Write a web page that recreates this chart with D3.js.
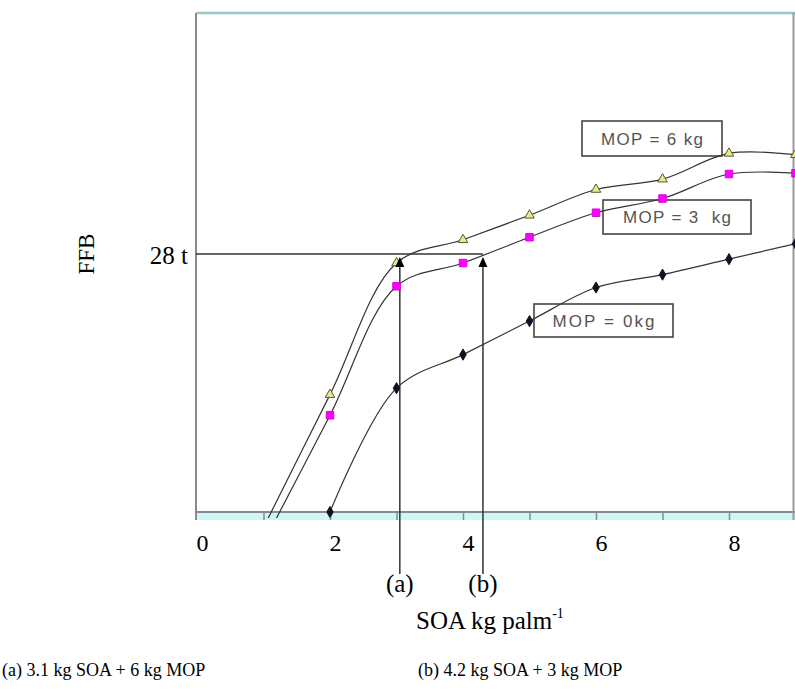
<!DOCTYPE html>
<html><head><meta charset="utf-8">
<script src="https://cdn.jsdelivr.net/npm/d3@7"></script>
<style>body{margin:0;background:#fff}svg{display:block}</style>
</head><body><svg id="c" width="795" height="689"></svg>
<script>
// ---- data ----
const soa  = [1, 2, 3, 4, 5, 6, 7, 8, 9];
const mop0 = [null, 18.0, 22.8, 24.1, 25.4, 26.7, 27.2, 27.8, 28.4];
const mop3 = [16.8, 21.75, 26.75, 27.65, 28.65, 29.6, 30.15, 31.1, 31.13];
const mop6 = [17.4, 22.55, 27.65, 28.55, 29.5, 30.5, 30.9, 31.9, 31.85];
const xTickValues = [0, 2, 4, 6, 8];
const xMinorTicks = [1, 2, 3, 4, 5, 6, 7, 8, 9];
const yTickValues = [28];
const yTickLabels = ["28 t"];
const seriesLabels = ["MOP = 6 kg", "MOP = 3  kg", "MOP = 0kg"];
const optimumX = [3.05, 4.3];
const optimumLabels = ["(a)", "(b)"];
const optimumY = 28;
const captions = ["(a) 3.1 kg SOA + 6 kg MOP", "(b) 4.2 kg SOA + 3 kg MOP"];
const xTitle = "SOA kg palm";
const yTitle = "FFB";

// ---- layout ----
const svg = d3.select("#c");
const L = 196, R = 795, T = 13, B = 512, BAND = 8;
const x = d3.scaleLinear().domain([0, 9]).range([197, 795.5]);
const y = d3.scaleLinear().domain([18, 28]).range([B, 254]);
const serif = "'Liberation Serif','Times New Roman',serif";
const sans = "'Liberation Sans',Arial,sans-serif";

svg.append("defs").append("clipPath").attr("id", "clip")
  .append("rect").attr("x", L).attr("y", T).attr("width", R - L).attr("height", B - T + 6);

// bottom band
svg.append("rect").attr("x", L).attr("y", B).attr("width", R - L).attr("height", BAND)
  .attr("fill", "#cdf6f6");
const xAxis = d3.axisBottom(x).tickValues(xMinorTicks).tickSize(BAND).tickFormat("");
const gx = svg.append("g").attr("transform", `translate(0,${B})`).call(xAxis);
gx.select(".domain").remove();
gx.selectAll(".tick line").attr("stroke", "#8a8a8a").attr("stroke-width", 1.5);

// frame
svg.append("line").attr("x1", L).attr("x2", R).attr("y1", T).attr("y2", T)
  .attr("stroke", "#9cc8c8").attr("stroke-width", 2.5);
svg.append("line").attr("x1", L).attr("x2", R).attr("y1", B).attr("y2", B)
  .attr("stroke", "#8a8a8a").attr("stroke-width", 2);
svg.append("line").attr("x1", L).attr("x2", L).attr("y1", T).attr("y2", B + BAND)
  .attr("stroke", "#8a8a8a").attr("stroke-width", 2);
svg.append("line").attr("x1", 793.5).attr("x2", 793.5).attr("y1", T).attr("y2", B + BAND)
  .attr("stroke", "#9a9a9a").attr("stroke-width", 2);

// x tick labels
const xLab = d3.axisBottom(x).tickValues(xTickValues).tickSize(0).tickPadding(0).tickFormat(d3.format("d"));
const gxl = svg.append("g").attr("transform", `translate(0,${B})`).call(xLab);
gxl.select(".domain").remove();
gxl.selectAll("text").attr("font-family", serif).attr("font-size", 24).attr("fill", "#000")
  .attr("dy", null).attr("y", 39).attr("dx", 5);

// y tick label
const yLab = d3.axisLeft(y).tickValues(yTickValues).tickSize(0).tickPadding(0)
  .tickFormat((d, i) => yTickLabels[i]);
const gyl = svg.append("g").attr("transform", `translate(${L - 8},0)`).call(yLab);
gyl.select(".domain").remove();
gyl.selectAll("text").attr("font-family", serif).attr("font-size", 25).attr("fill", "#000")
  .attr("dy", "0.36em");

// axis titles
svg.append("text").attr("transform", `translate(94,254) rotate(-90)`).attr("text-anchor", "middle")
  .attr("font-family", serif).attr("font-size", 23).text(yTitle);
const xt = svg.append("text").attr("x", 416).attr("y", 629).attr("font-family", serif).attr("font-size", 25);
xt.append("tspan").text(xTitle);
xt.append("tspan").attr("font-size", 14).attr("dy", -11).text("-1");

// legend boxes (drawn under the lines)
const boxes = [
  {x0: 582, x1: 722, y0: 121, y1: 156},
  {x0: 603, x1: 751, y0: 200, y1: 234},
  {x0: 534, x1: 673, y0: 304, y1: 337}
];
const textW = [102, 108, 102];
boxes.forEach((b, i) => {
  svg.append("rect").attr("x", b.x0).attr("y", b.y0).attr("width", b.x1 - b.x0).attr("height", b.y1 - b.y0)
    .attr("fill", "#fff").attr("stroke", "#444").attr("stroke-width", 1.6);
  svg.append("text").attr("x", (b.x0 + b.x1) / 2 - textW[i] / 2).attr("y", (b.y0 + b.y1) / 2 + 6)
    .attr("font-family", sans).attr("font-size", 17).attr("fill", "#555")
    .attr("textLength", textW[i]).attr("lengthAdjust", "spacing")
    .style("white-space", "pre").text(seriesLabels[i]);
});

// reference lines
const ref = svg.append("g").attr("stroke", "#333").attr("stroke-width", 1.5);
ref.append("line").attr("x1", L).attr("x2", x(optimumX[1])).attr("y1", y(optimumY)).attr("y2", y(optimumY));
optimumX.forEach(v => {
  ref.append("line").attr("x1", x(v)).attr("x2", x(v)).attr("y1", y(optimumY) + 8).attr("y2", 574);
});

// series
const plot = svg.append("g").attr("clip-path", "url(#clip)");
const line = d3.line().defined(d => d[1] != null).x(d => x(d[0])).y(d => y(d[1]))
  .curve(d3.curveCatmullRom.alpha(0.5));
const series = [
  {vals: mop6, sym: d3.symbolTriangle, size: 40, fill: "#e8e890", stroke: "#5a5a30"},
  {vals: mop3, sym: d3.symbolSquare, size: 56, fill: "#ff00ff", stroke: "#e000e0"},
  {vals: mop0, sym: d3.symbolDiamond, size: 36, fill: "#111122", stroke: "#111122"}
];
series.forEach(s => {
  const pts = soa.map((v, i) => [v, s.vals[i]]);
  plot.append("path").datum(pts).attr("d", line).attr("fill", "none")
    .attr("stroke", "#333").attr("stroke-width", 1.2);
  plot.selectAll(null).data(pts.filter(d => d[1] != null)).enter().append("path")
    .attr("transform", d => `translate(${x(d[0])},${y(d[1])})`)
    .attr("d", d3.symbol().type(s.sym).size(s.size))
    .attr("fill", s.fill).attr("stroke", s.stroke).attr("stroke-width", 1);
});

// arrowheads
optimumX.forEach(v => {
  const cx = x(v), ty = y(optimumY) + 3;
  svg.append("path").attr("d", `M${cx},${ty} L${cx - 4.5},${ty + 10} L${cx + 4.5},${ty + 10} Z`).attr("fill", "#000");
});

// optimum labels
optimumX.forEach((v, i) => {
  svg.append("text").attr("x", x(v)).attr("y", 592).attr("text-anchor", "middle")
    .attr("font-family", serif).attr("font-size", 25).text(optimumLabels[i]);
});

// captions
svg.append("text").attr("x", 2).attr("y", 676).attr("font-family", serif).attr("font-size", 18).text(captions[0]);
svg.append("text").attr("x", 418).attr("y", 676).attr("font-family", serif).attr("font-size", 18).text(captions[1]);
</script></body></html>
